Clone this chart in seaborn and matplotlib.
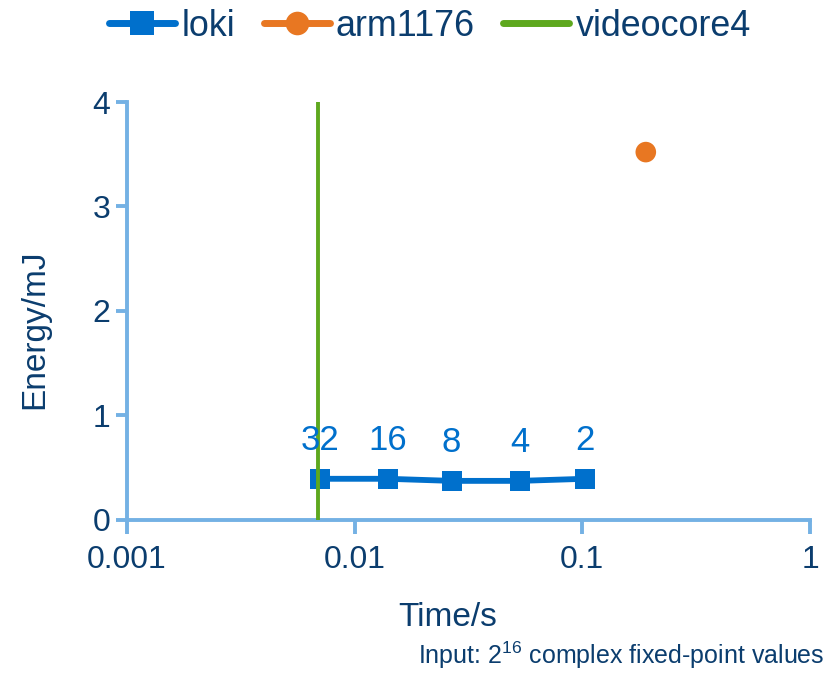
import matplotlib
matplotlib.use("Agg")
import matplotlib.pyplot as plt
import seaborn as sns
import pandas as pd
from matplotlib.lines import Line2D

# ---- data ----
loki_time = [0.00702, 0.01396, 0.02667, 0.0530, 0.1027]
loki_energy = [0.39, 0.39, 0.37, 0.37, 0.39]
loki_labels = ["32", "16", "8", "4", "2"]
arm_time = [0.190]
arm_energy = [3.52]
videocore_time = [0.00688]
x_ticks = [0.001, 0.01, 0.1, 1]
x_ticklabels = ["0.001", "0.01", "0.1", "1"]
y_ticks = [0, 1, 2, 3, 4]

sns.set_theme(style="white")
plt.rcParams["font.family"] = ["Liberation Sans", "DejaVu Sans"]
plt.rcParams["mathtext.fontset"] = "custom"
plt.rcParams["mathtext.rm"] = "Liberation Sans"
plt.rcParams["mathtext.it"] = "Liberation Sans"

BLUE = "#0070CC"
ORANGE = "#E87722"
GREEN = "#5EA81E"
NAVY = "#0B3D6E"
SPINE = "#74B1E4"

fig = plt.figure(figsize=(8.32, 6.73), dpi=100)
ax = fig.add_axes([127/832, 1-519.5/673, (810-127)/832, (519.5-102)/673])

df_loki = pd.DataFrame({"time": loki_time, "energy": loki_energy})
df_arm = pd.DataFrame({"time": arm_time, "energy": arm_energy})

ax.axvline(videocore_time[0], color=GREEN, lw=2.8, zorder=3)
sns.lineplot(data=df_loki, x="time", y="energy", ax=ax, color=BLUE, lw=4.2,
             marker="s", markersize=15, markeredgewidth=0, zorder=2)
sns.scatterplot(data=df_arm, x="time", y="energy", ax=ax, color=ORANGE,
                s=220, edgecolor="none", zorder=2)

for t, e, lab in zip(loki_time, loki_energy, loki_labels):
    ax.annotate(lab, (t, e), xytext=(0, 16), textcoords="offset points",
                ha="center", va="bottom", color=BLUE, fontsize=25)

ax.set_xscale("log")
ax.set_xlim(0.001, 1)
ax.set_ylim(0, 4)
ax.set_xticks(x_ticks)
ax.set_xticklabels(x_ticklabels)
ax.minorticks_off()
ax.set_yticks(y_ticks)

for s in ["top", "right"]:
    ax.spines[s].set_visible(False)
for s in ["left", "bottom"]:
    ax.spines[s].set_color(SPINE)
    ax.spines[s].set_linewidth(2.8)
ax.tick_params(axis="x", direction="out", length=10, width=2.8, color=SPINE,
               labelcolor=NAVY, labelsize=23, pad=8, bottom=True)
ax.tick_params(axis="y", direction="out", length=8, width=2.8, color=SPINE,
               labelcolor=NAVY, labelsize=23, pad=4, left=True)

ax.set_xlabel("Time/s", color=NAVY, fontsize=24)
ax.set_ylabel("Energy/mJ", color=NAVY, fontsize=24)
ax.xaxis.set_label_coords((448-127)/683, -(617-519.5)/417.5)
ax.yaxis.set_label_coords(-(127-35)/683, (519.5-329)/417.5)
ax.xaxis.label.set_va("center")
ax.yaxis.label.set_va("center")

handles = [
    Line2D([], [], color=BLUE, lw=5, marker="s", markersize=17, markeredgewidth=0),
    Line2D([], [], color=ORANGE, lw=5, marker="o", markersize=17, markeredgewidth=0),
    Line2D([], [], color=GREEN, lw=5),
]
leg = fig.legend(handles, ["loki", "arm1176", "videocore4"], loc="center",
                 bbox_to_anchor=(430/832, 1-26/673), ncol=3, frameon=False,
                 fontsize=25.8, handlelength=1.84, handletextpad=0.17,
                 columnspacing=0.8)
for t in leg.get_texts():
    t.set_color(NAVY)

fig.text(824/832, 1-655/673, "Input: 2$^{16}$ complex fixed-point values",
         ha="right", va="center", color=NAVY, fontsize=18)

fig.savefig("out.png", dpi=100)
